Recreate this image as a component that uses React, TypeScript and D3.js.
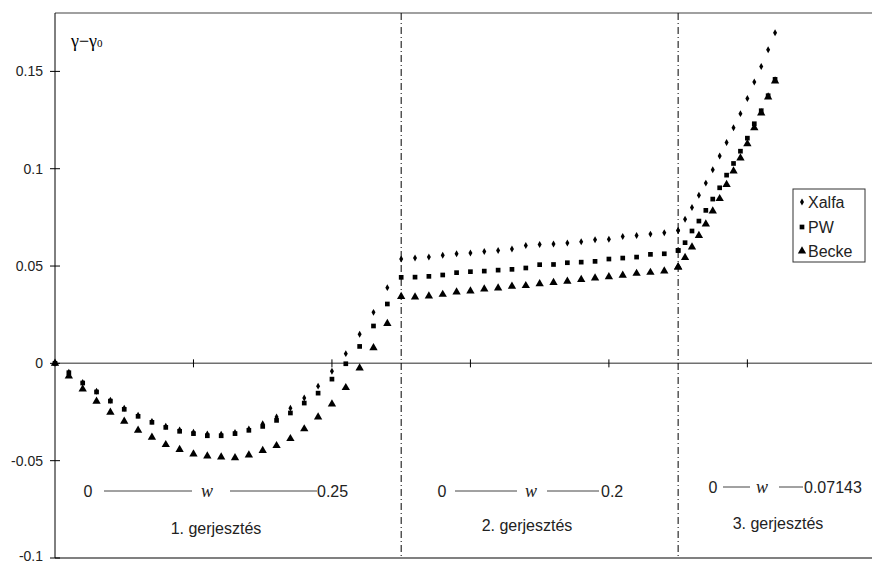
import React from 'react';
import * as d3 from 'd3';

// point positions along the x axis (three excitations joined end to end)
const xSec1 = [0, 1, 2, 3, 4, 5, 6, 7, 8, 9, 10, 11, 12, 13, 14, 15, 16, 17, 18, 19, 20, 21, 22, 23, 24];
const xSec2 = [25, 26, 27, 28, 29, 30, 31, 32, 33, 34, 35, 36, 37, 38, 39, 40, 41, 42, 43, 44, 45];
const xSec3 = [45, 45.5, 46, 46.5, 47, 47.5, 48, 48.5, 49, 49.5, 50, 50.5, 51, 51.5, 52];

const xalfa1 = [0, -0.0046, -0.0098, -0.0143, -0.0189, -0.0231, -0.0267, -0.0298, -0.0323, -0.0342, -0.0354, -0.0363, -0.0364, -0.0355, -0.0337, -0.031, -0.0276, -0.023, -0.0178, -0.0117, -0.0041, 0.005, 0.0149, 0.0262, 0.0389];
const xalfa2 = [0.0536, 0.0541, 0.0546, 0.0555, 0.0563, 0.0567, 0.0575, 0.058, 0.0587, 0.0605, 0.0611, 0.0613, 0.0618, 0.0625, 0.0635, 0.0638, 0.0652, 0.0657, 0.0664, 0.0671, 0.0683];
const xalfa3 = [0.0683, 0.074, 0.0801, 0.0864, 0.0926, 0.0995, 0.1065, 0.1135, 0.1211, 0.1283, 0.1361, 0.1445, 0.1525, 0.1611, 0.1699];

const pw1 = [0, -0.0048, -0.0101, -0.0147, -0.0194, -0.0236, -0.0272, -0.0303, -0.0329, -0.0349, -0.0361, -0.0372, -0.0372, -0.0361, -0.0344, -0.0324, -0.0293, -0.0255, -0.0204, -0.0153, -0.0081, -0.0002, 0.0087, 0.0192, 0.0305];
const pw2 = [0.0442, 0.0443, 0.0447, 0.0454, 0.0466, 0.0471, 0.0474, 0.0479, 0.0483, 0.049, 0.0507, 0.0508, 0.0517, 0.052, 0.0524, 0.0536, 0.0541, 0.0546, 0.056, 0.0563, 0.058];
const pw3 = [0.058, 0.062, 0.068, 0.0731, 0.0786, 0.0844, 0.0902, 0.0967, 0.1027, 0.109, 0.1157, 0.1231, 0.1298, 0.1375, 0.1459];

const becke1 = [0, -0.0065, -0.0132, -0.0195, -0.0252, -0.0298, -0.0344, -0.038, -0.0418, -0.0443, -0.0466, -0.0476, -0.0481, -0.0485, -0.0471, -0.0448, -0.0423, -0.0387, -0.0337, -0.0276, -0.0209, -0.0125, -0.0024, 0.008, 0.0204];
const becke2 = [0.0343, 0.0341, 0.0346, 0.0354, 0.0366, 0.0371, 0.0382, 0.0387, 0.0396, 0.0399, 0.0409, 0.0415, 0.0421, 0.043, 0.0438, 0.0445, 0.0452, 0.0462, 0.0467, 0.0474, 0.0495];
const becke3 = [0.0495, 0.0543, 0.0597, 0.0657, 0.0716, 0.0782, 0.0846, 0.0918, 0.0988, 0.1055, 0.1128, 0.121, 0.1286, 0.1368, 0.145];

const seriesNames = ['Xalfa', 'PW', 'Becke'];
const yTicks = [-0.1, -0.05, 0, 0.05, 0.1, 0.15];
const yTickLabels = ['-0.1', '-0.05', '0', '0.05', '0.1', '0.15'];
const xTicks = [10, 20, 30, 40, 50];
const sectionBounds = [25, 45];
const sectionNames = ['1. gerjesztés', '2. gerjesztés', '3. gerjesztés'];
const wStart = ['0', '0', '0'];
const wEnd = ['0.25', '0.2', '0.07143'];

const W = 872;
const H = 563;
const font = '"Liberation Sans", Arial, sans-serif';
const serif = '"Liberation Serif", "Times New Roman", serif';

export default function App() {
  const x = d3.scaleLinear().domain([0, 59]).range([55, 872]);
  const y = d3.scaleLinear().domain([-0.1, 0.18]).range([558, 13]);

  const xs = [...xSec1, ...xSec2, ...xSec3];
  const series = [
    { name: seriesNames[0], values: [...xalfa1, ...xalfa2, ...xalfa3], sym: d3.symbol(d3.symbolDiamond, 14)() },
    { name: seriesNames[1], values: [...pw1, ...pw2, ...pw3], sym: d3.symbol(d3.symbolSquare, 22)() },
    { name: seriesNames[2], values: [...becke1, ...becke2, ...becke3], sym: d3.symbol(d3.symbolTriangle, 30)() },
  ];

  const x0 = x(0);
  const yTop = y(0.18);
  const yBot = y(-0.1);
  const yZero = y(0);

  // annotation layout (pixels)
  const ann = [
    { c0: 88, l1: [104, 192], wx: 207, l2: [230, 317], endX: 317, rowY: 497, labelX: 216, labelY: 534 },
    { c0: 442, l1: [455, 517], wx: 531, l2: [547, 599], endX: 601, rowY: 497, labelX: 527, labelY: 531 },
    { c0: 713, l1: [723, 750], wx: 762, l2: [779, 803], endX: 804, rowY: 493, labelX: 778, labelY: 529 },
  ];

  const legendItems = [202, 227, 251];

  return (
    <svg width={W} height={H} style={{ position: 'absolute', left: 0, top: 0, background: '#fff' }}>
      <rect x={0} y={0} width={W} height={H} fill="#fff" />
      {/* frame */}
      <line x1={x0} x2={W} y1={yTop} y2={yTop} stroke="#808080" strokeWidth={1.5} />
      <line x1={x0} x2={W} y1={yBot} y2={yBot} stroke="#808080" strokeWidth={2} />
      <line x1={x0} x2={W} y1={yZero} y2={yZero} stroke="#707070" strokeWidth={1.5} />
      {xTicks.map(t => (
        <line key={t} x1={x(t)} x2={x(t)} y1={yZero - 4} y2={yZero + 4} stroke="#000" />
      ))}
      {sectionBounds.map(b => (
        <line key={b} x1={x(b)} x2={x(b)} y1={yTop} y2={yBot} stroke="#000" strokeWidth={1} strokeDasharray="7,3,1,3" />
      ))}
      <line x1={x0} x2={x0} y1={yTop} y2={yBot} stroke="#000" strokeWidth={1} />
      {yTicks.map((t, i) => (
        <g key={t}>
          <line x1={x0 - 5} x2={x0 + 5} y1={y(t)} y2={y(t)} stroke="#000" />
          <text x={43} y={Math.min(y(t) + 5, 561)} textAnchor="end" fontFamily={font} fontSize={14} fill="#222">
            {yTickLabels[i]}
          </text>
        </g>
      ))}

      {/* points */}
      {series.map(s => (
        <g key={s.name}>
          {s.values.map((v, i) => (
            <path key={i} d={s.sym} transform={`translate(${x(xs[i])},${y(v)})`} fill="#000" />
          ))}
        </g>
      ))}

      {/* y label */}
      <text x={71} y={47} fontFamily={serif} fontSize={18} fill="#000">
        γ−γ<tspan fontSize={11}>0</tspan>
      </text>

      {/* legend */}
      <rect x={793} y={189} width={72} height={73} fill="#fff" stroke="#333" strokeWidth={1} />
      {series.map((s, i) => (
        <g key={s.name}>
          <path d={s.sym} transform={`translate(802,${legendItems[i]})`} fill="#000" />
          <text x={808} y={legendItems[i] + 6} fontFamily={font} fontSize={16} fill="#222">
            {s.name}
          </text>
        </g>
      ))}

      {/* excitation annotations */}
      {ann.map((a, i) => (
        <g key={i} fontFamily={font} fontSize={16} fill="#222">
          <text x={a.c0} y={a.rowY} textAnchor="middle">{wStart[i]}</text>
          <line x1={a.l1[0]} x2={a.l1[1]} y1={a.rowY - 6} y2={a.rowY - 6} stroke="#444" />
          <text x={a.wx} y={a.rowY} textAnchor="middle" fontFamily={serif} fontStyle="italic" fontSize={18}>w</text>
          <line x1={a.l2[0]} x2={a.l2[1]} y1={a.rowY - 6} y2={a.rowY - 6} stroke="#444" />
          <text x={a.endX} y={a.rowY}>{wEnd[i]}</text>
          <text x={a.labelX} y={a.labelY} textAnchor="middle">{sectionNames[i]}</text>
        </g>
      ))}
    </svg>
  );
}
